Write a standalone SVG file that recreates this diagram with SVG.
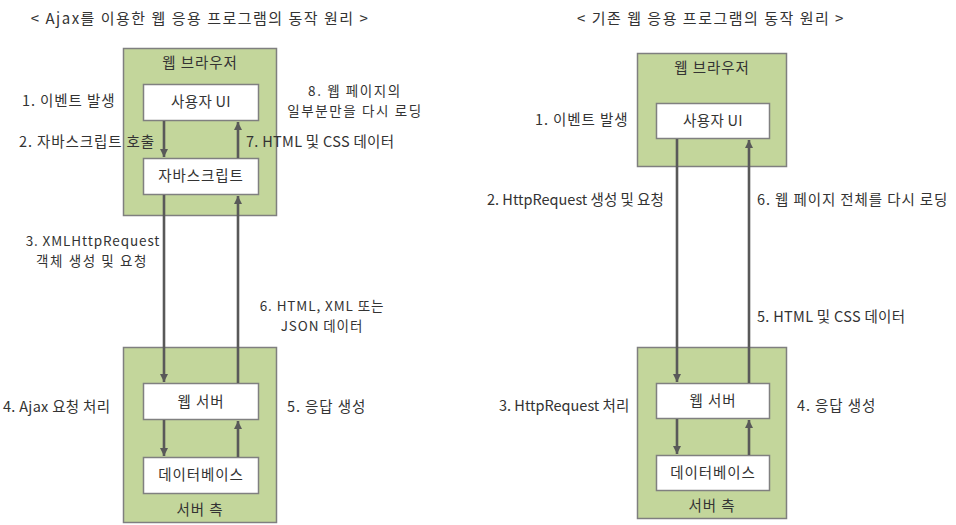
<svg xmlns="http://www.w3.org/2000/svg" width="956" height="525" viewBox="0 0 956 525">
<defs>
<marker id="ah" viewBox="0 0 10 10" refX="10" refY="5" markerWidth="3.2" markerHeight="3.2" orient="auto" markerUnits="strokeWidth">
<path d="M0,0 L10,5 L0,10 z" fill="#595959"/>
</marker>
<style>
text{font-family:"Malgun Gothic","Noto Sans CJK KR","Noto Sans",sans-serif;font-size:14.5px;letter-spacing:0.3px;fill:#333}
.c{text-anchor:middle}
.g{fill:#C3D69B;stroke:#7F7F7F;stroke-width:1.5}
.w{fill:#fff;stroke:#808080;stroke-width:1.5}
.a{stroke:#595959;stroke-width:2.6;fill:none;marker-end:url(#ah)}
.t{font-size:15px;letter-spacing:1.5px}
.h{letter-spacing:0.9px}
.n{letter-spacing:0}
.m{font-size:13.5px;letter-spacing:0.9px}
.mh{font-size:13.5px;letter-spacing:1.6px}
</style>
</defs>
<text class="c t" x="200" y="24">&lt; Ajax를 이용한 웹 응용 프로그램의 동작 원리 &gt;</text>
<text class="c t" x="711" y="24">&lt; 기존 웹 응용 프로그램의 동작 원리 &gt;</text>

<g id="L-browser"><rect class="g" x="123.5" y="48.5" width="153" height="167"/><text class="c h" x="200" y="68">웹 브라우저</text></g>
<g id="L-ui"><rect class="w" x="143.5" y="84.5" width="115" height="36"/><text class="c" x="201" y="107">사용자 UI</text></g>
<g id="L-js"><rect class="w" x="143.5" y="158.5" width="115" height="36"/><text class="c h" x="201" y="181">자바스크립트</text></g>
<g id="L-server"><rect class="g" x="123.5" y="347.5" width="153" height="175"/><text class="c h" x="200" y="515">서버 측</text></g>
<g id="L-web"><rect class="w" x="143.5" y="383.5" width="115" height="36"/><text class="c h" x="201" y="407">웹 서버</text></g>
<g id="L-db"><rect class="w" x="143.5" y="457.5" width="115" height="36"/><text class="c h" x="201" y="480">데이터베이스</text></g>

<g id="R-browser"><rect class="g" x="637.5" y="53.5" width="149" height="113"/><text class="c h" x="712" y="73">웹 브라우저</text></g>
<g id="R-ui"><rect class="w" x="656.5" y="103.5" width="113" height="35"/><text class="c" x="713" y="126">사용자 UI</text></g>
<g id="R-server"><rect class="g" x="637.5" y="347.5" width="149" height="171"/><text class="c h" x="712" y="511">서버 측</text></g>
<g id="R-web"><rect class="w" x="656.5" y="383.5" width="113" height="35"/><text class="c h" x="713" y="406">웹 서버</text></g>
<g id="R-db"><rect class="w" x="656.5" y="455.5" width="113" height="35"/><text class="c h" x="713" y="478">데이터베이스</text></g>

<g id="connectors">
<line class="a" x1="164" y1="121" x2="164" y2="157"/>
<line class="a" x1="238" y1="158" x2="238" y2="122"/>
<line class="a" x1="164" y1="195" x2="164" y2="382"/>
<line class="a" x1="238" y1="383" x2="238" y2="196"/>
<line class="a" x1="164" y1="420" x2="164" y2="456"/>
<line class="a" x1="238" y1="457" x2="238" y2="421"/>
<line class="a" x1="677" y1="139" x2="677" y2="382"/>
<line class="a" x1="749" y1="383" x2="749" y2="140"/>
<line class="a" x1="677" y1="419" x2="677" y2="454"/>
<line class="a" x1="749" y1="455" x2="749" y2="420"/>
</g>

<g id="labels">
<text class="h" x="22" y="106">1. 이벤트 발생</text>
<text class="h" x="19" y="147">2. 자바스크립트 호출</text>
<text x="246" y="147">7. HTML 및 CSS 데이터</text>
<text class="c mh" x="355" y="96">8. 웹 페이지의</text>
<text class="c mh" x="355" y="116">일부분만을 다시 로딩</text>
<text class="c m" x="93" y="245.5">3. XMLHttpRequest</text>
<text class="c mh" x="92" y="265.5">객체 생성 및 요청</text>
<text class="c m" x="322" y="310.5">6. HTML, XML 또는</text>
<text class="c m" x="322" y="330.5">JSON 데이터</text>
<text x="3" y="412">4. Ajax 요청 처리</text>
<text class="h" x="287" y="412">5. 응답 생성</text>
<text class="h" x="535" y="125">1. 이벤트 발생</text>
<text class="n" x="487" y="205">2. HttpRequest 생성 및 요청</text>
<text class="h" x="757" y="205">6. 웹 페이지 전체를 다시 로딩</text>
<text x="757" y="322">5. HTML 및 CSS 데이터</text>
<text class="n" x="499" y="411">3. HttpRequest 처리</text>
<text class="h" x="797" y="411">4. 응답 생성</text>
</g>
</svg>
